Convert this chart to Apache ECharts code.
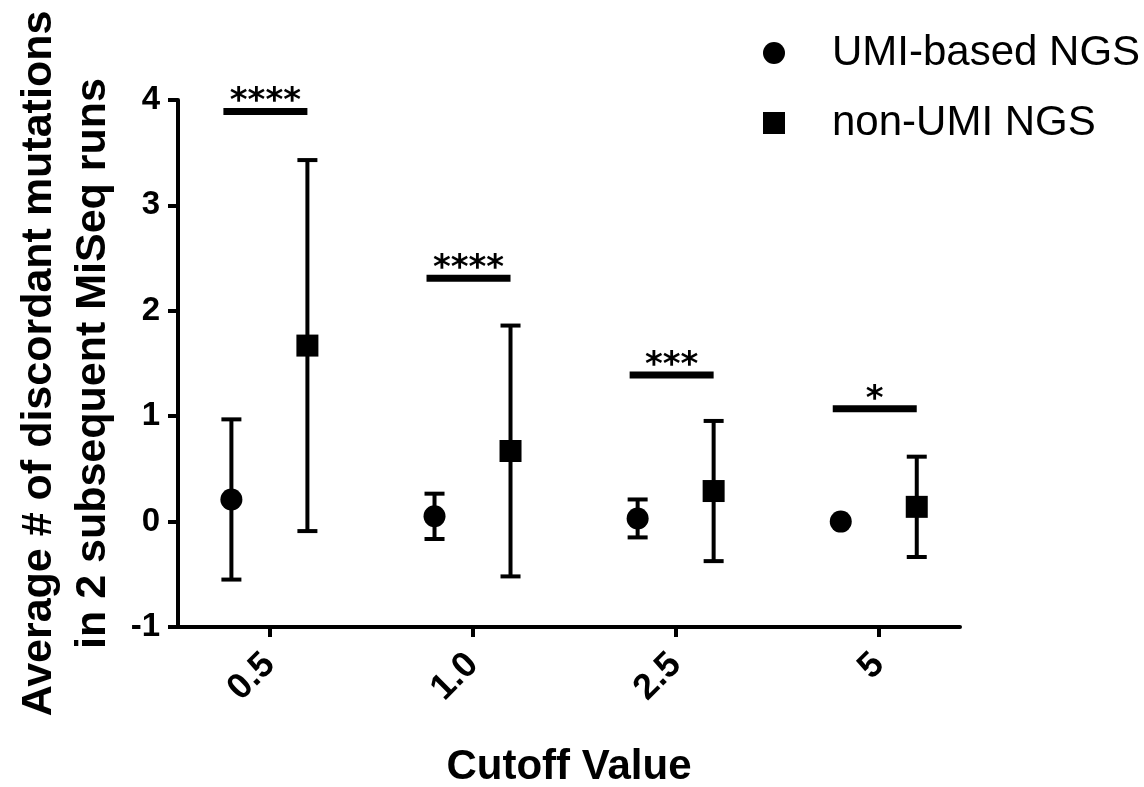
<!DOCTYPE html>
<html>
<head>
<meta charset="utf-8">
<script src="https://cdn.jsdelivr.net/npm/echarts@6/dist/echarts.min.js"></script>
<style>
html,body{margin:0;padding:0;background:#fff;}
#chart{width:1144px;height:787px;}
</style>
</head>
<body>
<div id="chart"></div>
<script>
// ---- data ----
var categories = ['0.5', '1.0', '2.5', '5'];
var umiMean = [0.21, 0.05, 0.03, 0.00];
var umiSD = [0.76, 0.215, 0.18, 0.0];
var nonUmiMean = [1.67, 0.67, 0.29, 0.14];
var nonUmiSD = [1.76, 1.19, 0.665, 0.476];
var sigLevels = [3.89, 2.31, 1.39, 1.07];
var sigLabels = ['****', '****', '***', '*'];
var yTicks = [-1, 0, 1, 2, 3, 4];
var seriesNames = ['UMI-based NGS', 'non-UMI NGS'];

// ---- style ----
var FONT = 'Liberation Sans, Arial, sans-serif';
var DODGE = 38; // px
var catIdx = categories.map(function (c, i) { return i; });

function errData(mean, sd) {
  return mean.map(function (m, i) { return [i, m - sd[i], m + sd[i]]; });
}
function ptData(mean) {
  return mean.map(function (m, i) { return [i, m]; });
}
function errRender(offset) {
  return function (params, api) {
    var x = api.value(0), lo = api.value(1), hi = api.value(2);
    if (hi - lo < 1e-9) return { type: 'group', children: [] };
    var pLo = api.coord([x, lo]);
    var pHi = api.coord([x, hi]);
    var cx = pLo[0] + offset;
    var cap = 10;
    var st = { stroke: '#000', lineWidth: 4 };
    return {
      type: 'group',
      children: [
        { type: 'line', shape: { x1: cx, y1: pLo[1], x2: cx, y2: pHi[1] }, style: st },
        { type: 'line', shape: { x1: cx - cap, y1: pLo[1], x2: cx + cap, y2: pLo[1] }, style: st },
        { type: 'line', shape: { x1: cx - cap, y1: pHi[1], x2: cx + cap, y2: pHi[1] }, style: st }
      ]
    };
  };
}

var chart = echarts.init(document.getElementById('chart'), null, { renderer: 'canvas' });
var option = {
  backgroundColor: '#fff',
  animation: false,
  grid: { left: 178, right: 184, top: 100, bottom: 160, containLabel: false, outerBoundsMode: 'none' },
  legend: {
    orient: 'vertical',
    left: 758,
    top: 27,
    itemGap: 28,
    itemWidth: 22,
    itemHeight: 22,
    data: [
      { name: seriesNames[0], icon: 'circle' },
      { name: seriesNames[1], icon: 'rect' }
    ],
    textStyle: { fontFamily: FONT, fontSize: 42, color: '#000', padding: [0, 0, 0, 42] }
  },
  xAxis: {
    type: 'value',
    min: -0.45,
    max: 3.4,
    splitLine: { show: false },
    axisLine: { onZero: false, lineStyle: { color: '#000', width: 4 } },
    axisTick: { show: true, customValues: catIdx, length: 10, lineStyle: { color: '#000', width: 4 } },
    axisLabel: {
      customValues: catIdx,
      formatter: function (v) { return categories[Math.round(v)]; },
      rotate: 45,
      margin: 32,
      fontFamily: FONT, fontWeight: 'bold', fontSize: 36, color: '#000'
    },
    name: 'Cutoff Value',
    nameLocation: 'middle',
    nameGap: 119,
    nameTextStyle: { fontFamily: FONT, fontWeight: 'bold', fontSize: 42, color: '#000' }
  },
  yAxis: {
    type: 'value',
    min: -1,
    max: 4,
    interval: 1,
    splitLine: { show: false },
    axisLine: { show: true, onZero: false, lineStyle: { color: '#000', width: 4 } },
    axisTick: { show: true, length: 10, lineStyle: { color: '#000', width: 4 } },
    axisLabel: {
      margin: 18,
      formatter: function (v) { return yTicks.indexOf(v) >= 0 ? String(v) : ''; },
      fontFamily: FONT, fontWeight: 'bold', fontSize: 33, color: '#000'
    },
    name: 'Average # of discordant mutations\nin 2 subsequent MiSeq runs',
    nameLocation: 'middle',
    nameRotate: 90,
    nameGap: 58,
    nameTextStyle: { fontFamily: FONT, fontWeight: 'bold', fontSize: 43, lineHeight: 54, color: '#000', align: 'center' }
  },
  series: [
    {
      type: 'custom', name: seriesNames[0] + ' SD', silent: true, z: 2,
      renderItem: errRender(-DODGE), data: errData(umiMean, umiSD),
      encode: { x: 0, y: [1, 2] }
    },
    {
      type: 'custom', name: seriesNames[1] + ' SD', silent: true, z: 2,
      renderItem: errRender(DODGE), data: errData(nonUmiMean, nonUmiSD),
      encode: { x: 0, y: [1, 2] }
    },
    {
      type: 'scatter', name: seriesNames[0], z: 3,
      symbol: 'circle', symbolSize: 22, symbolOffset: [-DODGE, 0],
      itemStyle: { color: '#000', opacity: 1 },
      data: ptData(umiMean)
    },
    {
      type: 'scatter', name: seriesNames[1], z: 3,
      symbol: 'rect', symbolSize: 22, symbolOffset: [DODGE, 0],
      itemStyle: { color: '#000', opacity: 1 },
      data: ptData(nonUmiMean)
    },
    {
      type: 'custom', name: 'significance', silent: true, z: 4,
      data: sigLevels.map(function (v, i) { return [i, v]; }),
      encode: { x: 0, y: 1 },
      renderItem: function (params, api) {
        var p = api.coord([api.value(0), api.value(1)]);
        var half = 42;
        return {
          type: 'group',
          children: [
            { type: 'rect', shape: { x: p[0] - half - 4, y: p[1] - 3.5, width: 2 * half, height: 7 }, style: { fill: '#000' } },
            { type: 'text', x: p[0] - 4, y: p[1] + 8,
              style: { text: sigLabels[params.dataIndex], fill: '#000', fontFamily: 'DejaVu Sans', fontWeight: 'bold', fontSize: 34, align: 'center', verticalAlign: 'bottom' } }
          ]
        };
      }
    }
  ]
};
chart.setOption(option);
</script>
</body>
</html>
